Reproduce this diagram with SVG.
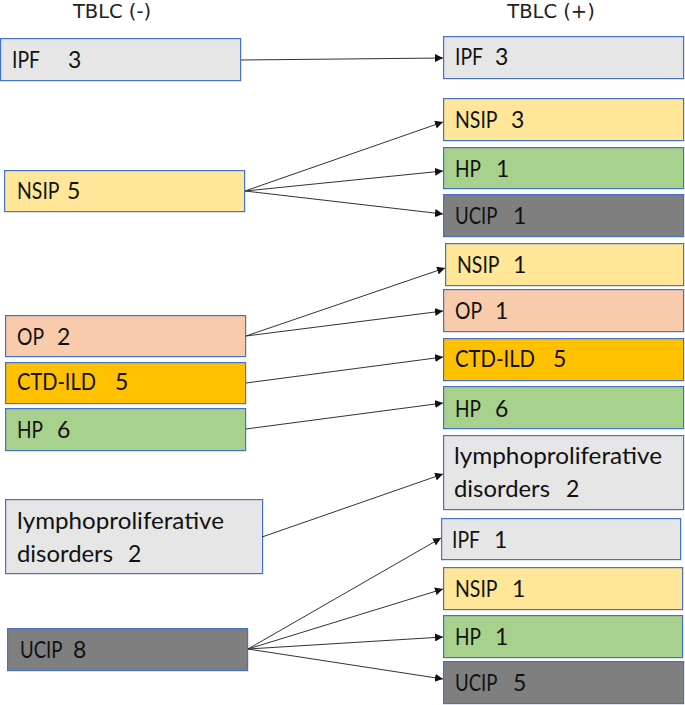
<svg xmlns="http://www.w3.org/2000/svg" width="685" height="705" viewBox="0 0 685 705">
<style>
.b{stroke:#4472C4;stroke-width:1.2}
.g{fill:#E7E6E6}.y{fill:#FFE699}.gr{fill:#A9D18E}.d{fill:#7F7F7F}.p{fill:#F8CBAD}.o{fill:#FFC000}
text{font-family:Lato,"Open Sans","Liberation Sans",sans-serif;font-size:23px;fill:#111}
.t{font-family:"DejaVu Sans","Liberation Sans",sans-serif;font-size:19.5px;fill:#222}
.c line{stroke:#333;stroke-width:1;marker-end:url(#ah)}
</style>
<defs>
<marker id="ah" viewBox="0 0 10 10" refX="10" refY="5" markerWidth="8" markerHeight="8" markerUnits="userSpaceOnUse" orient="auto">
<path d="M0,0 L10,5 L0,10 z" fill="#111"/>
</marker>
</defs>
<text class="t" x="112" y="18" text-anchor="middle">TBLC (-)</text>
<text class="t" x="551" y="18" text-anchor="middle">TBLC (+)</text>

<g id="l-ipf"><rect class="b g" x="0.6" y="38.6" width="240" height="42"/><text x="12" y="68"><tspan textLength="27.5" lengthAdjust="spacingAndGlyphs">IPF</tspan> <tspan x="68">3</tspan></text></g>
<g id="l-nsip"><rect class="b y" x="4.6" y="170.6" width="240" height="41"/><text x="17" y="199"><tspan textLength="42" lengthAdjust="spacingAndGlyphs">NSIP</tspan> <tspan x="67">5</tspan></text></g>
<g id="l-op"><rect class="b p" x="5.6" y="315.6" width="240" height="41"/><text x="17" y="345"><tspan textLength="26.5" lengthAdjust="spacingAndGlyphs">OP</tspan> <tspan x="57">2</tspan></text></g>
<g id="l-ctd"><rect class="b o" x="5.6" y="362.6" width="240" height="41"/><text x="17" y="390"><tspan textLength="79" lengthAdjust="spacingAndGlyphs">CTD-ILD</tspan> <tspan x="115">5</tspan></text></g>
<g id="l-hp"><rect class="b gr" x="5.6" y="408.6" width="240" height="42"/><text x="17" y="438"><tspan textLength="25.5" lengthAdjust="spacingAndGlyphs">HP</tspan> <tspan x="57">6</tspan></text></g>
<g id="l-lym"><rect class="b g" x="5.6" y="499.6" width="257" height="74"/><text x="17" y="529" textLength="207" lengthAdjust="spacingAndGlyphs">lymphoproliferative</text><text x="17" y="562"><tspan textLength="96" lengthAdjust="spacingAndGlyphs">disorders</tspan> <tspan x="128">2</tspan></text></g>
<g id="l-ucip"><rect class="b d" x="7.6" y="628.6" width="240" height="42"/><text x="20" y="658"><tspan textLength="42" lengthAdjust="spacingAndGlyphs">UCIP</tspan> <tspan x="73">8</tspan></text></g>

<g id="r-ipf3"><rect class="b g" x="443.6" y="36.6" width="240" height="42"/><text x="455" y="65"><tspan textLength="27.5" lengthAdjust="spacingAndGlyphs">IPF</tspan> <tspan x="495">3</tspan></text></g>
<g id="r-nsip3"><rect class="b y" x="443.6" y="98.6" width="240" height="42"/><text x="455" y="128"><tspan textLength="42" lengthAdjust="spacingAndGlyphs">NSIP</tspan> <tspan x="511">3</tspan></text></g>
<g id="r-hp1a"><rect class="b gr" x="443.6" y="147.6" width="240" height="41"/><text x="455" y="176.5"><tspan textLength="25.5" lengthAdjust="spacingAndGlyphs">HP</tspan> <tspan x="496">1</tspan></text></g>
<g id="r-ucip1"><rect class="b d" x="443.6" y="194.6" width="240" height="42"/><text x="455" y="224"><tspan textLength="42" lengthAdjust="spacingAndGlyphs">UCIP</tspan> <tspan x="513">1</tspan></text></g>
<g id="r-nsip1a"><rect class="b y" x="445.6" y="243.6" width="238" height="42"/><text x="457" y="273"><tspan textLength="42" lengthAdjust="spacingAndGlyphs">NSIP</tspan> <tspan x="513">1</tspan></text></g>
<g id="r-op1"><rect class="b p" x="443.6" y="289.6" width="240" height="42"/><text x="455" y="319"><tspan textLength="26.5" lengthAdjust="spacingAndGlyphs">OP</tspan> <tspan x="495">1</tspan></text></g>
<g id="r-ctd5"><rect class="b o" x="443.6" y="338.6" width="240" height="42"/><text x="455" y="367"><tspan textLength="80" lengthAdjust="spacingAndGlyphs">CTD-ILD</tspan> <tspan x="553">5</tspan></text></g>
<g id="r-hp6"><rect class="b gr" x="443.6" y="386.6" width="240" height="42"/><text x="455" y="416.5"><tspan textLength="25.5" lengthAdjust="spacingAndGlyphs">HP</tspan> <tspan x="495">6</tspan></text></g>
<g id="r-lym2"><rect class="b g" x="443.6" y="435.6" width="240" height="74"/><text x="454" y="464" textLength="208" lengthAdjust="spacingAndGlyphs">lymphoproliferative</text><text x="454" y="497"><tspan textLength="96" lengthAdjust="spacingAndGlyphs">disorders</tspan> <tspan x="566">2</tspan></text></g>
<g id="r-ipf1"><rect class="b g" x="441.6" y="518.6" width="239" height="41"/><text x="452" y="547.5"><tspan textLength="27.5" lengthAdjust="spacingAndGlyphs">IPF</tspan> <tspan x="494">1</tspan></text></g>
<g id="r-nsip1b"><rect class="b y" x="443.6" y="567.6" width="239" height="42"/><text x="455" y="597"><tspan textLength="42" lengthAdjust="spacingAndGlyphs">NSIP</tspan> <tspan x="512">1</tspan></text></g>
<g id="r-hp1b"><rect class="b gr" x="443.6" y="615.6" width="239" height="42"/><text x="455" y="645"><tspan textLength="25.5" lengthAdjust="spacingAndGlyphs">HP</tspan> <tspan x="495">1</tspan></text></g>
<g id="r-ucip5"><rect class="b d" x="443.6" y="661.6" width="240" height="42"/><text x="455" y="691"><tspan textLength="42" lengthAdjust="spacingAndGlyphs">UCIP</tspan> <tspan x="513">5</tspan></text></g>

<g class="c" id="connectors">
<line x1="241" y1="60" x2="443" y2="58"/>
<line x1="245" y1="191" x2="443" y2="122"/>
<line x1="245" y1="191" x2="443" y2="171"/>
<line x1="245" y1="191" x2="443" y2="214"/>
<line x1="246" y1="336" x2="445" y2="268"/>
<line x1="246" y1="336" x2="443" y2="311"/>
<line x1="246" y1="383" x2="443" y2="357"/>
<line x1="246" y1="429" x2="443" y2="403"/>
<line x1="262" y1="537" x2="443" y2="474"/>
<line x1="248" y1="649" x2="441" y2="538"/>
<line x1="248" y1="649" x2="443" y2="589"/>
<line x1="248" y1="649" x2="443" y2="637"/>
<line x1="248" y1="649" x2="443" y2="679"/>
</g>
</svg>
